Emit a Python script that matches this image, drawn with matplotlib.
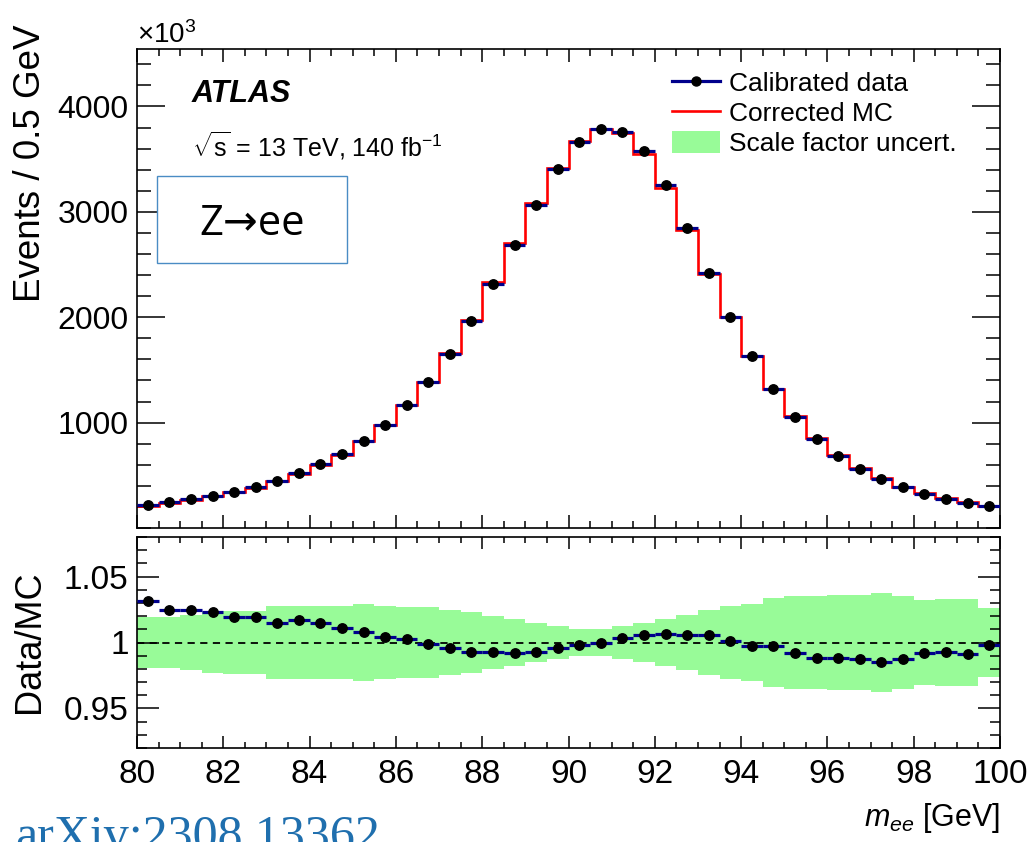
import numpy as np
import matplotlib
matplotlib.use('Agg')
import matplotlib.pyplot as plt
from matplotlib.lines import Line2D
from matplotlib.patches import Patch, Rectangle
from matplotlib.ticker import MultipleLocator, FixedLocator

plt.rcParams['font.family'] = ['Liberation Sans', 'DejaVu Sans']
plt.rcParams['mathtext.fontset'] = 'custom'
plt.rcParams['mathtext.rm'] = 'Liberation Sans'
plt.rcParams['mathtext.it'] = 'Liberation Sans:italic'
plt.rcParams['mathtext.bf'] = 'Liberation Sans:bold'

# m_ee binning, 0.5 GeV bins
bin_edges = np.arange(80.0, 100.01, 0.5)

# calibrated data, events / 0.5 GeV in units of 10^3
data_counts = [214, 243, 271, 306, 344, 391, 448, 521, 603, 704,
               830, 979, 1169, 1387, 1652, 1962, 2313, 2685, 3061, 3403,
               3662, 3788, 3760, 3573, 3251, 2849, 2423, 2003, 1630, 1317,
               1052, 846, 685, 562, 464, 385, 325, 278, 240, 211]

# data / corrected MC
ratio = [1.0318, 1.0245, 1.0250, 1.0233, 1.0190, 1.0193, 1.0145, 1.0168, 1.0145, 1.0110,
         1.0080, 1.0040, 1.0023, 0.9988, 0.9960, 0.9928, 0.9928, 0.9923, 0.9930, 0.9957,
         0.9983, 1.0000, 1.0033, 1.0058, 1.0065, 1.0060, 1.0058, 1.0008, 0.9970, 0.9970,
         0.9918, 0.9880, 0.9885, 0.9878, 0.9855, 0.9875, 0.9920, 0.9928, 0.9915, 0.9978]

# relative scale factor uncertainty (half width of band)
sf_uncert = [0.0190, 0.0195, 0.0205, 0.0230, 0.0240, 0.0240, 0.0275, 0.0275, 0.0275, 0.0275,
             0.0290, 0.0277, 0.0270, 0.0266, 0.0250, 0.0229, 0.0204, 0.0175, 0.0148, 0.0125,
             0.0105, 0.0105, 0.0125, 0.0150, 0.0180, 0.0210, 0.0245, 0.0273, 0.0295, 0.0338,
             0.0355, 0.0355, 0.0360, 0.0360, 0.0378, 0.0353, 0.0320, 0.0330, 0.0330, 0.0260]

centers = 0.5 * (bin_edges[:-1] + bin_edges[1:])
data_counts = np.array(data_counts, dtype=float)
ratio = np.array(ratio)
mc_counts = data_counts / ratio
unc = np.array(sf_uncert)

navy = '#00008c'
green = '#98fb98'

W, H = 1032, 842
fig = plt.figure(figsize=(W / 100, H / 100), dpi=100)


def box(l, t, r, b):
    return [l / W, 1 - b / H, (r - l) / W, (b - t) / H]


ax = fig.add_axes(box(137, 49, 1000, 528))
rx = fig.add_axes(box(137, 537, 1000, 748))

# main panel
ax.stairs(mc_counts, bin_edges, baseline=None, color='red', lw=1.9, zorder=2)
ax.errorbar(centers, data_counts, xerr=0.25, fmt='none', ecolor=navy,
            elinewidth=2.3, zorder=3)
ax.plot(centers, data_counts, 'o', color='black', ms=6.8, zorder=4)

# ratio panel
rx.stairs(1 + unc, bin_edges, baseline=1 - unc, fill=True, color=green, lw=0, zorder=1)
rx.axhline(1.0, color='black', ls=(0, (4, 3)), lw=1.3, zorder=2)
rx.errorbar(centers, ratio, xerr=0.25, fmt='none', ecolor=navy,
            elinewidth=2.3, zorder=3)
rx.plot(centers, ratio, 'o', color='black', ms=6.8, zorder=4)

for a in (ax, rx):
    a.set_xlim(80, 100)
    a.xaxis.set_major_locator(MultipleLocator(2))
    a.xaxis.set_minor_locator(MultipleLocator(0.5))
    a.tick_params(which='both', direction='in', top=True, right=True, width=1.1)
    for s in a.spines.values():
        s.set_linewidth(1.2)

ax.set_ylim(0, 4545)
ax.yaxis.set_major_locator(FixedLocator([1000, 2000, 3000, 4000]))
ax.yaxis.set_minor_locator(MultipleLocator(200))
ax.tick_params(axis='y', which='major', length=20, labelsize=23, pad=6)
ax.tick_params(axis='y', which='minor', length=10)
ax.tick_params(axis='x', which='major', length=9.5, labelbottom=False)
ax.tick_params(axis='x', which='minor', length=5)

rx.set_ylim(0.92, 1.08)
rx.yaxis.set_major_locator(FixedLocator([0.95, 1.0, 1.05]))
rx.yaxis.set_minor_locator(MultipleLocator(0.01))
rx.set_yticklabels(['0.95', '1', '1.05'])
rx.tick_params(axis='y', which='major', length=16, labelsize=24, pad=6)
rx.tick_params(axis='y', which='minor', length=7)
rx.tick_params(axis='x', which='major', length=8.5, labelsize=24, pad=8)
rx.tick_params(axis='x', which='minor', length=4.5)

# legend
handles = [
    Line2D([], [], color=navy, lw=2.3, marker='o', mfc='black', mec='black', ms=6.5),
    Line2D([], [], color='red', lw=1.9),
    Patch(facecolor=green, edgecolor='none'),
]
labels = ['Calibrated data', 'Corrected MC', 'Scale factor uncert.']
ax.legend(handles, labels, loc='upper left', bbox_to_anchor=((672 - 137) / 863, 0.955),
          frameon=False, fontsize=19, handlelength=1.8, handletextpad=0.35,
          labelspacing=0.2, borderpad=0, borderaxespad=0, numpoints=1, handleheight=0.9)

# labels and annotations
fig.text(137 / W, 1 - 43 / H, r'$\times10^{3}$', fontsize=20, ha='left', va='baseline')
fig.text(192 / W, 1 - 102 / H, 'ATLAS', fontsize=22, weight='bold', style='italic',
         ha='left', va='baseline')
fig.text(192 / W, 1 - 157 / H, r'$\sqrt{\mathrm{s}}$ = 13 TeV, 140 fb$^{-1}$', fontsize=18,
         ha='left', va='baseline')
fig.add_artist(Rectangle((157 / W, 1 - 263 / H), 190 / W, 87 / H, transform=fig.transFigure,
                         facecolor='white', edgecolor='#4a8cc4', lw=1.0))
fig.text(252 / W, 1 - 235 / H, 'Z\u2192ee', fontsize=30, family=['Open Sans', 'DejaVu Sans'],
         ha='center', va='baseline')

fig.text(31 / W, 1 - 25 / H, 'Events / 0.5 GeV', rotation=90, fontsize=26.5,
         ha='center', va='top')
fig.text(29 / W, 1 - 642 / H, 'Data/MC', rotation=90, fontsize=26, ha='center', va='center')
fig.text(1000 / W, 1 - 826 / H, r'$m_{ee}$ [GeV]', fontsize=22, ha='right', va='baseline')
fig.text(15 / W, 1 - 850 / H, 'arXiv:2308.13362', fontsize=36, color='#1f6fae',
         family=['Liberation Serif', 'DejaVu Serif'], ha='left', va='baseline')

fig.savefig('out.png', dpi=100)
